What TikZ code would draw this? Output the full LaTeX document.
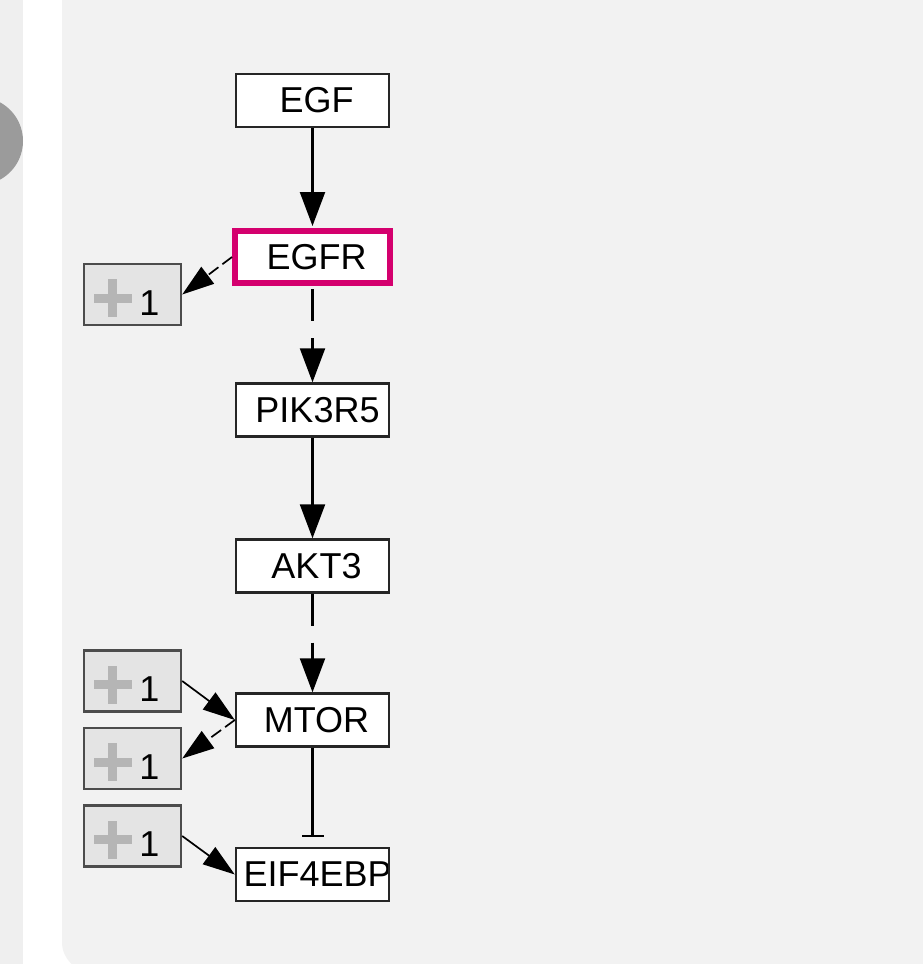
\documentclass[tikz,border=0pt]{standalone}
\usepackage{fontspec}
\setmainfont{Liberation Sans}
\usetikzlibrary{arrows.meta}
\definecolor{panel}{HTML}{F2F2F2}
\definecolor{strip}{HTML}{EFEFEF}
\definecolor{knob}{HTML}{9B9B9B}
\definecolor{magen}{HTML}{D4006E}
\definecolor{boxgray}{HTML}{E4E4E4}
\definecolor{plusgray}{HTML}{B5B5B5}
\begin{document}
\begin{tikzpicture}[x=1pt,y=-1pt,
  genefont/.style={font=\fontsize{36}{40}\selectfont},
  gene/.style={genefont, draw=black!85, line width=2.4pt, fill=white,
    minimum width=153pt, minimum height=53pt, inner sep=0pt},
  focus/.style={genefont, draw=magen, line width=6pt, fill=white,
    minimum width=155pt, minimum height=52pt, inner sep=0pt},
  plusbox/.style={draw=black!70, line width=2.4pt, fill=boxgray,
    minimum width=97pt, minimum height=61pt, inner sep=0pt,
    path picture={
      \fill[plusgray] ([shift={(-39pt,1pt)}]path picture bounding box.center)
        rectangle ([shift={(-1pt,-8pt)}]path picture bounding box.center);
      \fill[plusgray] ([shift={(-24.5pt,15.5pt)}]path picture bounding box.center)
        rectangle ([shift={(-15.5pt,-22.5pt)}]path picture bounding box.center);
      \node[genefont, anchor=base, inner sep=0pt]
        at ([shift={(17pt,-20.5pt)}]path picture bounding box.center) {1};
    }},
  mainarrow/.style={line width=2.2pt, -{Triangle[length=34pt,width=25pt]}},
  smallarrow/.style={line width=1.7pt, -{Triangle[length=32pt,width=21pt]}},
  inhibit/.style={line width=2.2pt, -{Bar[width=22pt,line width=2.2pt]}},
  indirect/.style={dash pattern=on 32pt off 17pt},
  indirectsmall/.style={dash pattern=on 12pt off 5pt}
]
\useasboundingbox (0,0) rectangle (923,964);
% background
\fill[strip] (0,0) rectangle (23,964);
\fill[white] (23,0) rectangle (923,964);
\fill[panel, rounded corners=30pt] (62,-60) rectangle (990,972);
\fill[knob] (-21,141) circle[radius=44pt];

% gene nodes
\node[gene] (egf) at (312.5,100.5) {\hspace*{8pt}EGF};
\node[focus] (egfr) at (312.5,257) {\hspace*{8pt}EGFR};
\node[gene] (pik) at (312.5,410) {\hspace*{10pt}PIK3R5};
\node[gene] (akt) at (312.5,566) {\hspace*{8pt}AKT3};
\node[gene] (mtor) at (312.5,720) {\hspace*{8pt}MTOR};
\node[gene, path picture={
    \node[genefont, anchor=west, inner sep=0pt]
      at ([xshift=4pt]path picture bounding box.west) {EIF4EBP};}]
  (eif) at (312.5,874.5) {};

% collapsed neighbour boxes
\node[plusbox] (p1) at (132.5,294.5) {};
\node[plusbox] (p2) at (132.5,681) {};
\node[plusbox] (p3) at (132.5,758.5) {};
\node[plusbox] (p4) at (132.5,836) {};

% connectors
\draw[mainarrow, shorten >=2pt] (egf) -- (egfr);
\draw[mainarrow, indirect, shorten <=3pt] (egfr) -- (pik);
\draw[mainarrow] (pik) -- (akt);
\draw[mainarrow, indirect] (akt) -- (mtor);
\draw[inhibit, shorten >=10pt] (mtor) -- (eif);

\draw[smallarrow, indirectsmall] (egfr.west) -- (p1.east);
\draw[smallarrow] (p2.east) -- (mtor.west);
\draw[smallarrow, indirectsmall] (mtor.west) -- (p3.east);
\draw[smallarrow] (p4.east) -- (eif.west);
\end{tikzpicture}
\end{document}
